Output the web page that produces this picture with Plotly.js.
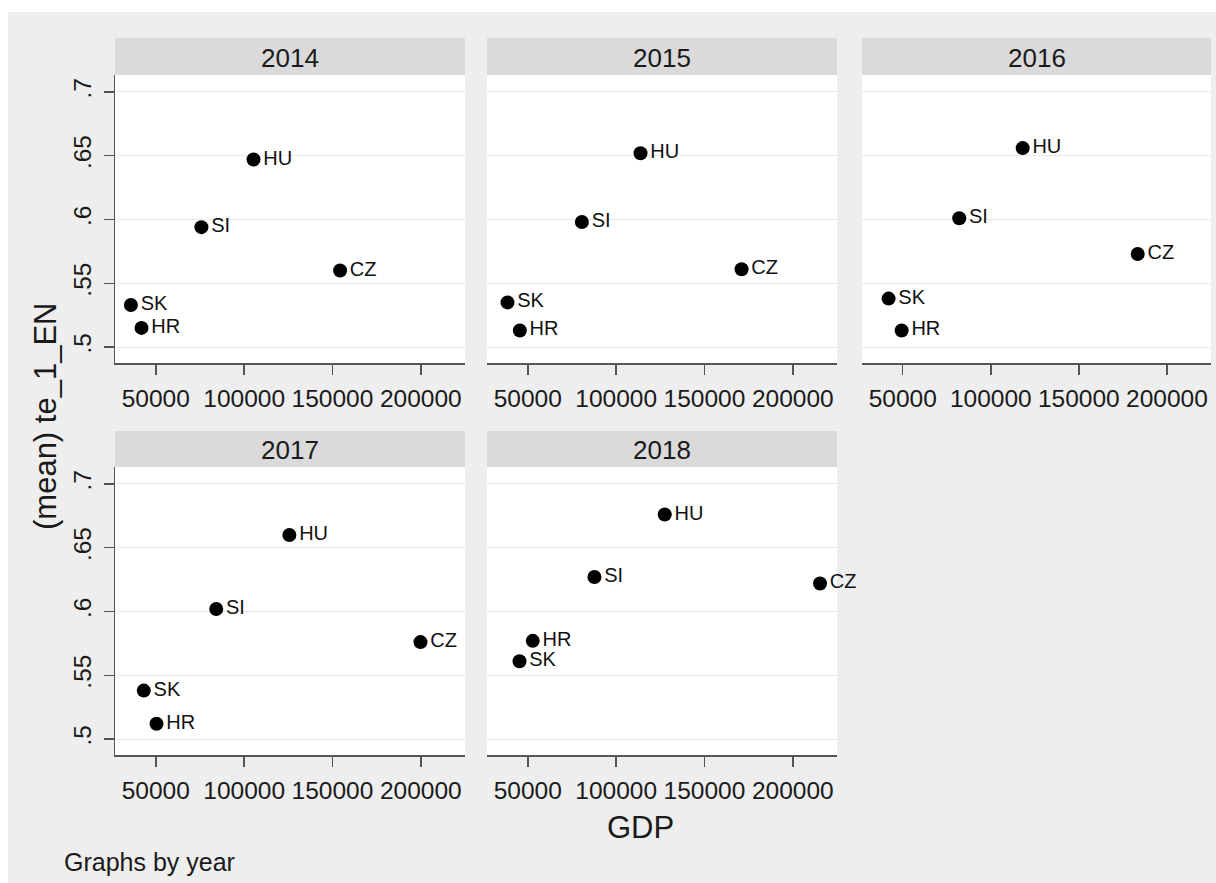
<!DOCTYPE html>
<html>
<head>
<meta charset="utf-8">
<script src="https://cdn.plot.ly/plotly-3.0.1.min.js"></script>
<style>
  html, body { margin: 0; padding: 0; background: #ffffff; }
  #chart { width: 1216px; height: 883px; }
</style>
</head>
<body>
<div id="chart"></div>
<script>
// ---- data ----
const years = ['2014', '2015', '2016', '2017', '2018'];
const countries = ['HU', 'SI', 'CZ', 'SK', 'HR'];

const gdp2014 = [105300, 75800, 154300, 35900, 41900];
const te2014  = [0.647, 0.594, 0.560, 0.533, 0.515];

const gdp2015 = [113800, 80600, 171000, 38500, 45500];
const te2015  = [0.652, 0.598, 0.561, 0.535, 0.513];

const gdp2016 = [118100, 82100, 183400, 42000, 49400];
const te2016  = [0.656, 0.601, 0.573, 0.538, 0.513];

const gdp2017 = [125600, 84200, 199800, 43200, 50400];
const te2017  = [0.660, 0.602, 0.576, 0.538, 0.512];

const gdp2018 = [127500, 87700, 215400, 45300, 52800];
const te2018  = [0.676, 0.627, 0.622, 0.561, 0.577];

const xTickVals = [50000, 100000, 150000, 200000];
const xTickText = ['50000', '100000', '150000', '200000'];
const yTickVals = [0.5, 0.55, 0.6, 0.65, 0.7];
const yTickText = ['.5', '.55', '.6', '.65', '.7'];

const xTitle = 'GDP';
const yTitle = '(mean) te_1_EN';
const note = 'Graphs by year';

// ---- layout helpers (pixel -> paper) ----
const W = 1216, H = 883;
const px = v => v / W;
const py = v => 1 - v / H;

const FONT = 'Liberation Sans, Arial, sans-serif';
const BG = '#eeeeee';
const STRIP = '#dadada';
const AXIS = '#555555';
const GRID = '#e9e9e9';

// panel geometry in pixels: [left, right], [top, bottom]
const cols = [[115, 465], [487, 837], [862, 1211]];
const rows = [[75, 363], [467, 755]];
const stripRows = [[38, 75], [431, 467]];
const panelPos = [[0, 0], [1, 0], [2, 0], [0, 1], [1, 1]];

const gdpAll = [gdp2014, gdp2015, gdp2016, gdp2017, gdp2018];
const teAll = [te2014, te2015, te2016, te2017, te2018];

const traces = [];
const layout = {
  width: W, height: H,
  margin: {l: 0, r: 0, t: 0, b: 0, pad: 0},
  paper_bgcolor: BG,
  plot_bgcolor: '#ffffff',
  showlegend: false,
  font: {family: FONT, color: '#1a1a1a'},
  shapes: [],
  annotations: []
};

// white outer margin like the reference
layout.shapes.push({type: 'rect', xref: 'paper', yref: 'paper', x0: 0, x1: 1, y0: py(12), y1: 1,
  fillcolor: '#ffffff', line: {width: 0}, layer: 'below'});
layout.shapes.push({type: 'rect', xref: 'paper', yref: 'paper', x0: 0, x1: px(8), y0: 0, y1: 1,
  fillcolor: '#ffffff', line: {width: 0}, layer: 'below'});

years.forEach((yr, i) => {
  const [c, r] = panelPos[i];
  const n = i === 0 ? '' : String(i + 1);
  const xa = 'xaxis' + n, ya = 'yaxis' + n;
  traces.push({
    type: 'scatter',
    mode: 'markers+text',
    x: gdpAll[i], y: teAll[i],
    text: countries,
    textposition: 'middle right',
    textfont: {family: FONT, size: 20, color: '#111111'},
    marker: {color: '#000000', size: 14, line: {width: 0}},
    xaxis: 'x' + n, yaxis: 'y' + n,
    cliponaxis: false,
    hoverinfo: 'x+y+text'
  });
  const showY = (c === 0);
  layout[xa] = {
    domain: [px(cols[c][0]), px(cols[c][1])],
    anchor: 'y' + n,
    range: [26900, 225000],
    tickvals: xTickVals, ticktext: xTickText,
    ticks: 'outside', ticklen: 10, tickwidth: 1.5, tickcolor: AXIS,
    showline: true, linecolor: AXIS, linewidth: 1.5,
    showgrid: false, zeroline: false,
    tickfont: {family: FONT, size: 24.5, color: '#1a1a1a'},
    ticklabelstandoff: 3,
    fixedrange: true
  };
  layout[ya] = {
    domain: [py(rows[r][1]), py(rows[r][0])],
    anchor: 'x' + n,
    range: [0.4875, 0.7133],
    tickvals: yTickVals, ticktext: yTickText,
    showgrid: true, gridcolor: GRID, gridwidth: 1,
    zeroline: false,
    showline: showY, linecolor: AXIS, linewidth: 1.5,
    ticks: showY ? 'outside' : '', ticklen: 10, tickwidth: 1.5, tickcolor: AXIS,
    showticklabels: showY,
    tickangle: -90,
    tickfont: {family: FONT, size: 24.5, color: '#1a1a1a'},
    ticklabelstandoff: 3,
    fixedrange: true
  };
  // strip header
  layout.shapes.push({type: 'rect', xref: 'paper', yref: 'paper',
    x0: px(cols[c][0]), x1: px(cols[c][1]),
    y0: py(stripRows[r][1]), y1: py(stripRows[r][0]),
    fillcolor: STRIP, line: {width: 0}, layer: 'below'});
  layout.annotations.push({xref: 'paper', yref: 'paper',
    x: px((cols[c][0] + cols[c][1]) / 2), y: py((stripRows[r][0] + stripRows[r][1]) / 2 + 1),
    xanchor: 'center', yanchor: 'middle', showarrow: false,
    text: yr, font: {family: FONT, size: 26, color: '#1a1a1a'}});
});

// axis titles and note
layout.annotations.push({xref: 'paper', yref: 'paper', x: px(45), y: py(417),
  xanchor: 'center', yanchor: 'middle', showarrow: false, textangle: -90,
  text: yTitle, font: {family: FONT, size: 31, color: '#1a1a1a'}});
layout.annotations.push({xref: 'paper', yref: 'paper', x: px(640), y: py(827),
  xanchor: 'center', yanchor: 'middle', showarrow: false,
  text: xTitle, font: {family: FONT, size: 31, color: '#1a1a1a'}});
layout.annotations.push({xref: 'paper', yref: 'paper', x: px(62), y: py(862),
  xanchor: 'left', yanchor: 'middle', showarrow: false,
  text: note, font: {family: FONT, size: 25, color: '#1a1a1a'}});

Plotly.newPlot('chart', traces, layout, {displayModeBar: false, staticPlot: true});
</script>
</body>
</html>
